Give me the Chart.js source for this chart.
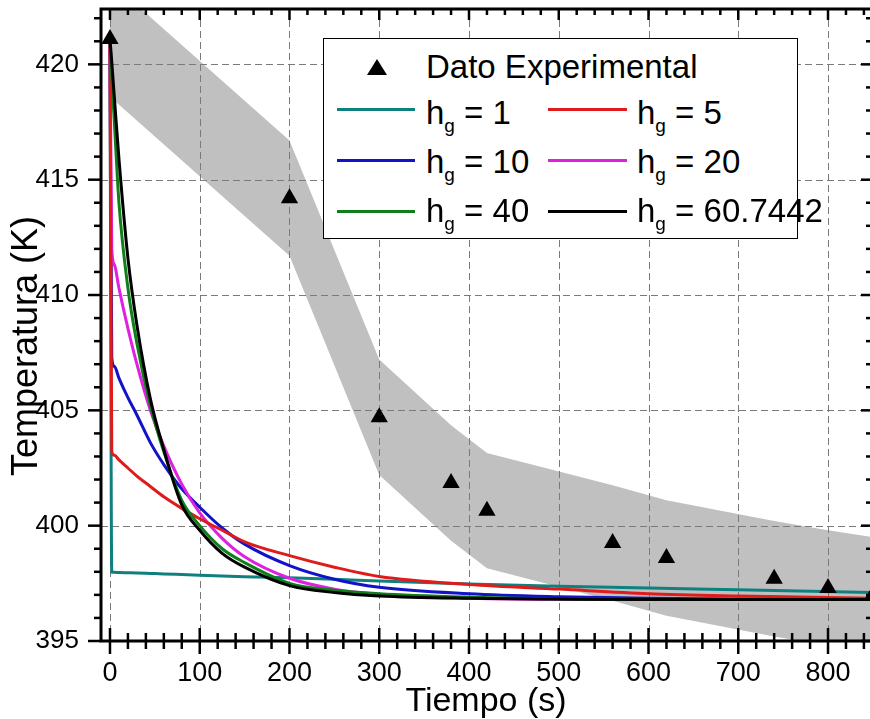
<!DOCTYPE html>
<html><head><meta charset="utf-8">
<script src="https://cdn.jsdelivr.net/npm/chart.js@4.4.1/dist/chart.umd.min.js"></script>
<style>
html,body{margin:0;padding:0;overflow:hidden;background:#fff;}
#wrap{position:relative;width:870px;height:719px;overflow:hidden;font-family:"Liberation Sans",Arial,sans-serif;color:#000;}
canvas{position:absolute;left:0;top:0;}
#box{position:absolute;left:323px;top:38px;width:473px;height:199px;border:1.5px solid #000;background:#fff;}
.item{position:absolute;font-size:33px;line-height:33px;white-space:nowrap;}
.sw{position:absolute;height:3px;}
.sub{font-size:19px;position:relative;top:8px;}
.tri{position:absolute;width:0;height:0;border-left:10px solid transparent;border-right:10px solid transparent;border-bottom:16px solid #000;}
</style></head>
<body>
<div id="wrap">
<canvas id="c" width="875" height="719" style="width:875px;height:719px"></canvas>
<div id="box"></div>
<div class="tri" style="left:367px;top:59px"></div>
<div class="item" style="left:426px;top:50px">Dato Experimental</div>
<div class="sw" style="left:337px;top:107.5px;width:78px;background:#0f8080"></div>
<div class="item" style="left:426px;top:96px">h<span class="sub">g</span> = 1</div>
<div class="sw" style="left:548px;top:107.5px;width:79px;background:#e01b1b"></div>
<div class="item" style="left:637px;top:96px">h<span class="sub">g</span> = 5</div>
<div class="sw" style="left:337px;top:159px;width:78px;background:#1212c8"></div>
<div class="item" style="left:426px;top:145px">h<span class="sub">g</span> = 10</div>
<div class="sw" style="left:548px;top:159px;width:79px;background:#e020e0"></div>
<div class="item" style="left:637px;top:145px">h<span class="sub">g</span> = 20</div>
<div class="sw" style="left:337px;top:209.5px;width:78px;background:#0f7f1a"></div>
<div class="item" style="left:426px;top:194px">h<span class="sub">g</span> = 40</div>
<div class="sw" style="left:548px;top:209.5px;width:79px;background:#000"></div>
<div class="item" style="left:637px;top:194px">h<span class="sub">g</span> = 60.7442</div>
</div>
<script>
// Experimental data (Tiempo s, Temperatura K)
const expTime = [0, 200, 300, 380, 420, 560, 620, 740, 800, 850];
const expTemp = [421.1, 414.2, 404.7, 401.85, 400.65, 399.25, 398.6, 397.7, 397.3, 397.0];
// uncertainty band edges at the experimental times
const bandUpper = [423.6, 416.7, 407.2, 404.35, 403.15, 401.75, 401.1, 400.2, 399.8, 399.5];
const bandLower = [418.6, 411.7, 402.2, 399.35, 398.15, 396.75, 396.1, 395.2, 394.8, 394.5];
// simulated curves
const simTime = [0, 2, 5, 10, 20, 30, 45, 60, 80, 100, 125, 150, 200, 250, 300, 400, 500, 600, 700, 850];
const hg1  = [421.1, 397.98, 397.98, 397.97, 397.96, 397.95, 397.93, 397.91, 397.88, 397.85, 397.82, 397.79, 397.74, 397.68, 397.6, 397.47, 397.37, 397.3, 397.22, 397.1];
const hg5  = [421.1, 403.2, 403.05, 402.85, 402.5, 402.15, 401.7, 401.25, 400.75, 400.3, 399.8, 399.3, 398.7, 398.2, 397.8, 397.45, 397.25, 397.05, 396.95, 396.85];
const hg10 = [421.1, 407.3, 406.9, 406.4, 405.55, 404.8, 403.6, 402.65, 401.6, 400.8, 399.9, 399.2, 398.27, 397.68, 397.33, 397.05, 396.92, 396.85, 396.82, 396.8];
const hg20 = [421.1, 412.0, 411.3, 410.3, 408.55, 407.0, 405.0, 403.45, 401.8, 400.55, 399.45, 398.65, 397.72, 397.25, 397.02, 396.85, 396.8, 396.8, 396.8, 396.8];
const hg40 = [421.1, 419.5, 417.4, 414.0, 410.3, 407.9, 405.2, 403.2, 401.1, 400.0, 399.0, 398.4, 397.5, 397.2, 397.05, 396.9, 396.82, 396.8, 396.8, 396.8];
const hg60 = [421.1, 420.1, 418.5, 415.9, 411.6, 408.7, 405.5, 403.3, 400.9, 399.8, 398.8, 398.2, 397.4, 397.1, 396.95, 396.85, 396.82, 396.8, 396.8, 396.8];
// axis ticks
const xTicks = [0, 100, 200, 300, 400, 500, 600, 700, 800];
const yTicks = [395, 400, 405, 410, 415, 420];
const xRange = [-10, 849];
const yRange = [395, 422.4];

const pts = (xs, ys) => xs.map((x, i) => ({x: x, y: ys[i]}));
const lineDs = (label, ys, color, order) => ({
  label, data: pts(simTime, ys), borderColor: color, backgroundColor: color,
  borderWidth: 3, pointRadius: 0, fill: false, cubicInterpolationMode: 'monotone', order
});

const FONT = '"Liberation Sans", Arial, sans-serif';

const decor = {
  id: 'decor',
  afterDatasetDraw(chart, args) {
    if (args.index !== 7) return;
    const {ctx, chartArea: a, scales: {x, y}} = chart;
    ctx.save();
    ctx.strokeStyle = '#7a7a7a';
    ctx.lineWidth = 1;
    ctx.setLineDash([7, 4]);
    xTicks.forEach(v => {
      const px = Math.round(x.getPixelForValue(v)) + 0.5;
      ctx.beginPath(); ctx.moveTo(px, a.top); ctx.lineTo(px, a.bottom); ctx.stroke();
    });
    yTicks.forEach(v => {
      const py = Math.round(y.getPixelForValue(v)) + 0.5;
      ctx.beginPath(); ctx.moveTo(a.left, py); ctx.lineTo(a.right, py); ctx.stroke();
    });
    ctx.restore();
  },
  afterDraw(chart) {
    const {ctx, chartArea: a, scales: {x, y}} = chart;
    ctx.save();
    ctx.strokeStyle = '#000';
    ctx.setLineDash([]);
    ctx.lineWidth = 2.5;
    const seg = (x1, y1, x2, y2) => { ctx.beginPath(); ctx.moveTo(x1, y1); ctx.lineTo(x2, y2); ctx.stroke(); };
    for (let v = 0; v <= 840; v += 20) {
      const px = x.getPixelForValue(v);
      const major = v % 100 === 0;
      if (major) { seg(px, a.bottom - 13, px, a.bottom + 13); seg(px, a.top, px, a.top + 11); }
      else { seg(px, a.bottom - 8, px, a.bottom + 8); seg(px, a.top, px, a.top + 6); }
    }
    for (let v = 395; v <= 422; v += 1) {
      const py = y.getPixelForValue(v);
      const major = v % 5 === 0;
      seg(a.left - (major ? 13 : 7), py, a.left, py);
      seg(a.right - (major ? 11 : 6), py, a.right, py);
    }
    ctx.lineWidth = 3;
    ctx.beginPath();
    ctx.moveTo(a.left, a.bottom); ctx.lineTo(a.left, a.top); ctx.lineTo(a.right, a.top);
    ctx.lineTo(a.right, a.bottom); ctx.closePath(); ctx.stroke();
    ctx.fillStyle = '#000';
    ctx.textAlign = 'center';
    ctx.textBaseline = 'alphabetic';
    ctx.font = '34px ' + FONT;
    ctx.fillText('Tiempo (s)', 486, 711);
    ctx.translate(37, 346);
    ctx.rotate(-Math.PI / 2);
    ctx.font = '36px ' + FONT;
    ctx.fillText('Temperatura (K)', 0, 0);
    ctx.restore();
  }
};

new Chart(document.getElementById('c'), {
  type: 'line',
  data: {
    datasets: [
      {label: 'Dato Experimental', data: pts(expTime, expTemp), showLine: false, pointStyle: 'triangle',
       pointRadius: 10, pointBackgroundColor: '#000', pointBorderColor: '#000', pointBorderWidth: 0, order: 0},
      lineDs('hg = 60.7442', hg60, '#000000', 1),
      lineDs('hg = 40', hg40, '#0f7f1a', 2),
      lineDs('hg = 5', hg5, '#e01b1b', 3),
      lineDs('hg = 20', hg20, '#e020e0', 4),
      lineDs('hg = 10', hg10, '#1212c8', 5),
      lineDs('hg = 1', hg1, '#0f8080', 6),
      {label: 'band upper', data: pts(expTime, bandUpper), fill: '+1', backgroundColor: '#c0c0c0',
       borderWidth: 0, borderColor: 'rgba(0,0,0,0)', pointRadius: 0, order: 20},
      {label: 'band lower', data: pts(expTime, bandLower), fill: false, backgroundColor: '#c0c0c0',
       borderWidth: 0, borderColor: 'rgba(0,0,0,0)', pointRadius: 0, order: 21}
    ]
  },
  options: {
    responsive: false,
    animation: false,
    devicePixelRatio: 1,
    events: [],
    layout: {autoPadding: false, padding: {left: 0, top: 9, right: 3, bottom: 0}},
    plugins: {legend: {display: false}, tooltip: {enabled: false}, filler: {propagate: false}},
    scales: {
      x: {
        type: 'linear', min: xRange[0], max: xRange[1],
        afterBuildTicks: s => { s.ticks = xTicks.map(v => ({value: v})); },
        afterFit: s => { s.height = 78; s.paddingLeft = 0; s.paddingRight = 0; },
        grid: {display: false, drawTicks: false},
        border: {display: false},
        ticks: {color: '#000', padding: 16, font: {family: FONT, size: 27}, maxRotation: 0, autoSkip: false}
      },
      y: {
        type: 'linear', min: yRange[0], max: yRange[1],
        afterBuildTicks: s => { s.ticks = yTicks.map(v => ({value: v})); },
        afterFit: s => { s.width = 101; s.paddingTop = 0; s.paddingBottom = 0; },
        grid: {display: false, drawTicks: false},
        border: {display: false},
        ticks: {color: '#000', padding: 22, font: {family: FONT, size: 26}, autoSkip: false}
      }
    }
  },
  plugins: [decor]
});
</script>
</body></html>
